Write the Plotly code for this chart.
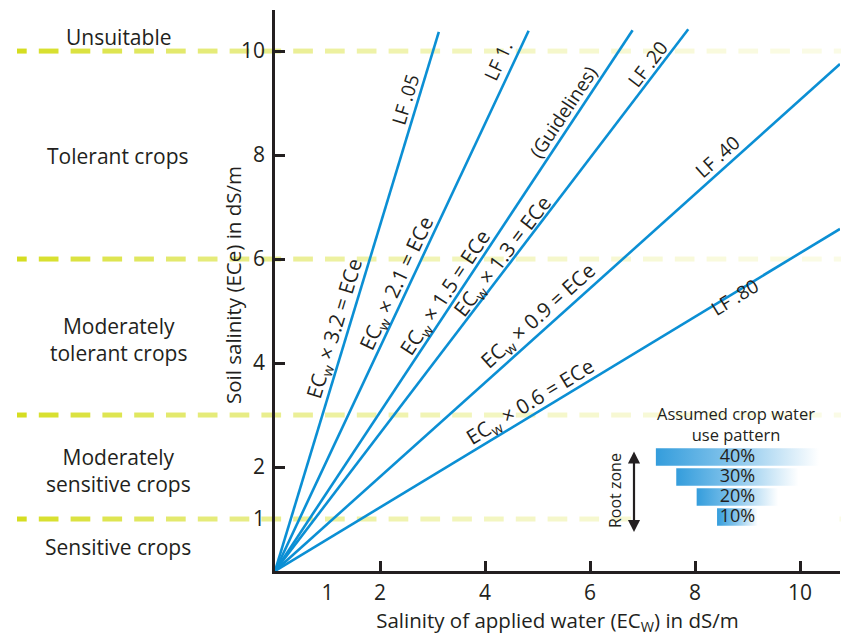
import math
import plotly.graph_objects as go

# ---------------- data ----------------
lf_labels = ["LF .05", "LF 1.", "(Guidelines)", "LF .20", "LF .40", "LF .80"]
multipliers = ["3.2", "2.1", "1.5", "1.3", "0.9", "0.6"]
ecw_end = [3.12, 4.83, 6.81, 7.87, 10.76, 10.76]     # ECw at line end
ece_end = [10.37, 10.39, 10.40, 10.42, 9.75, 6.58]   # ECe at line end
zone_bounds = [10, 6, 3, 1]
zone_names = ["Unsuitable", "Tolerant crops", "Moderately<br>tolerant crops",
              "Moderately<br>sensitive crops", "Sensitive crops"]
zone_label_y = [10.27, 7.98, 4.46, 1.94, 0.46]
x_tick_labels = [1, 2, 4, 6, 8, 10]
y_tick_labels = [1, 2, 4, 6, 8, 10]
major_ticks = [2, 4, 6, 8, 10]
uptake_pct = [40, 30, 20, 10]

# label placement (data coords)
lf_pos_x = [2.48, 4.25, 5.49, 7.10, 8.42, 8.76]
lf_pos_y = [9.06, 9.81, 8.83, 9.75, 7.96, 5.27]
eq_pos_x = [1.14, 2.32, 3.24, 4.34, 5.01, 4.86]
eq_pos_y = [4.67, 5.54, 5.35, 6.06, 4.90, 3.25]

# ---------------- layout constants ----------------
W, H = 841, 637
ML, MR, MT, MB = 275, 1, 10, 66
PW, PH = W - ML - MR, H - MT - MB
XMAX, YMAX = 10.76, 10.79
ppx, ppy = PW / XMAX, PH / YMAX
INK = "#231f20"
BLUE = "#0b8fd4"
FONT = "Open Sans"

fig = go.Figure()

for xe, ye in zip(ecw_end, ece_end):
    fig.add_trace(go.Scatter(x=[0, xe], y=[0, ye], mode="lines",
                             line=dict(color=BLUE, width=2.6),
                             hoverinfo="skip", showlegend=False, cliponaxis=False))

# invisible trace for tick overlay axes
fig.add_trace(go.Scatter(x=[None], y=[None], xaxis="x3", yaxis="y3",
                         showlegend=False, hoverinfo="skip"))

annotations = []
for i in range(len(lf_labels)):
    ang = -math.degrees(math.atan((ece_end[i] / ecw_end[i]) * ppy / ppx))
    annotations.append(dict(x=lf_pos_x[i], y=lf_pos_y[i], xref="x", yref="y",
                            text=lf_labels[i], showarrow=False, textangle=ang,
                            xanchor="center", yanchor="middle",
                            font=dict(family=FONT, size=19, color=INK)))
    annotations.append(dict(x=eq_pos_x[i], y=eq_pos_y[i], xref="x", yref="y",
                            text="EC<sub>w</sub> \u00d7 " + multipliers[i] + " = ECe",
                            showarrow=False, textangle=ang,
                            xanchor="center", yanchor="middle",
                            font=dict(family=FONT, size=20.5, color=INK)))

for name, yv in zip(zone_names, zone_label_y):
    annotations.append(dict(x=(118 - ML) / PW, y=yv, xref="paper", yref="y",
                            text=name, showarrow=False, xanchor="center",
                            yanchor="middle",
                            font=dict(family=FONT, size=21, color=INK)))

# y-axis title
annotations.append(dict(x=(233 - ML) / PW, y=(571 - 285) / PH, xref="paper", yref="paper",
                        text="Soil salinity (ECe) in dS/m", showarrow=False, textangle=-90,
                        xanchor="center", yanchor="middle",
                        font=dict(family=FONT, size=20.5, color=INK)))

# dashed zone boundaries with fading colour
shapes = []
period, dash_len, phase = 31.8, 19.7, 7.0
for yb in zone_bounds:
    start = phase
    while start < W:
        p0 = max(start, 17.0)
        p1 = min(start + dash_len, W)
        if p1 > p0:
            mid = (p0 + p1) / 2
            a = math.exp(-(mid - 17) / 370.0)
            r = 255 - a * (255 - 212)
            g = 255 - a * (255 - 221)
            b = 255 - a * (255 - 30)
            shapes.append(dict(type="line", xref="paper", yref="y",
                               x0=(p0 - ML) / PW, x1=(p1 - ML) / PW, y0=yb, y1=yb,
                               line=dict(color=f"rgb({r:.0f},{g:.0f},{b:.0f})", width=5),
                               layer="below"))
        start += period

# inset: crop water use pattern
for i, v in enumerate(uptake_pct):
    h = 0.44
    fig.add_trace(go.Scatter(
        x=[-v / 2, v / 2, v / 2, -v / 2, -v / 2],
        y=[i - h, i - h, i + h, i + h, i - h],
        xaxis="x2", yaxis="y2", mode="lines", fill="toself",
        line=dict(width=0, color="rgba(0,0,0,0)"),
        fillgradient=dict(type="horizontal",
                          colorscale=[[0, "rgb(52,157,220)"], [0.45, "rgb(130,195,235)"],
                                      [1, "rgb(255,255,255)"]]),
        hoverinfo="skip", showlegend=False))
fig.add_trace(go.Scatter(x=[0] * len(uptake_pct), y=list(range(len(uptake_pct))),
                         text=[f"{v}%" for v in uptake_pct], mode="text",
                         textfont=dict(family=FONT, size=18, color=INK),
                         xaxis="x2", yaxis="y2", hoverinfo="skip", showlegend=False))

annotations.append(dict(x=(736 - ML) / PW, y=(571 - 424) / PH, xref="paper", yref="paper",
                        text="Assumed crop water<br>use pattern", showarrow=False,
                        xanchor="center", yanchor="middle",
                        font=dict(family=FONT, size=16.5, color=INK)))
annotations.append(dict(x=(615 - ML) / PW, y=(571 - 491) / PH, xref="paper", yref="paper",
                        text="Root zone", showarrow=False, textangle=-90,
                        xanchor="center", yanchor="middle",
                        font=dict(family=FONT, size=16, color=INK)))
annotations.append(dict(x=(634 - ML) / PW, y=(571 - 532) / PH, xref="paper", yref="paper",
                        ax=0, ay=-82, axref="pixel", ayref="pixel", text="",
                        showarrow=True, arrowhead=2, arrowside="end+start",
                        arrowsize=1.1, arrowwidth=2.2, arrowcolor=INK))

axis_common = dict(showgrid=False, zeroline=False, showline=True, linecolor=INK,
                   linewidth=2.6, tickfont=dict(family=FONT, size=21, color=INK),
                   ticks="")

fig.update_layout(
    width=W, height=H,
    margin=dict(l=ML, r=MR, t=MT, b=MB),
    plot_bgcolor="white", paper_bgcolor="white",
    showlegend=False,
    xaxis=dict(range=[0, XMAX], tickvals=x_tick_labels, ticklabelstandoff=1,
               title=dict(text="Salinity of applied water (EC<sub>W</sub>) in dS/m",
                          font=dict(family=FONT, size=20.5, color=INK), standoff=8),
               **axis_common),
    yaxis=dict(range=[0, YMAX], tickvals=y_tick_labels, ticklabelstandoff=3,
               **axis_common),
    xaxis3=dict(overlaying="x", range=[0, XMAX], tickvals=major_ticks, ticks="inside",
                ticklen=10, tickwidth=2.6, tickcolor=INK, showticklabels=False,
                showline=False, showgrid=False, zeroline=False, anchor="y3"),
    yaxis3=dict(overlaying="y", range=[0, YMAX], tickvals=major_ticks, ticks="inside",
                ticklen=10, tickwidth=2.6, tickcolor=INK, showticklabels=False,
                showline=False, showgrid=False, zeroline=False, anchor="x3"),
    xaxis2=dict(domain=[0.638, 0.999], range=[-25, 25], visible=False, anchor="y2"),
    yaxis2=dict(domain=[(571 - 527) / PH, (571 - 447) / PH], range=[3.5, -0.5],
                visible=False, anchor="x2"),
    annotations=annotations,
    shapes=shapes,
)

fig.write_html("out.html", config={"displayModeBar": False},
               post_script="document.body.style.margin='0px';document.body.style.overflow='hidden';")
